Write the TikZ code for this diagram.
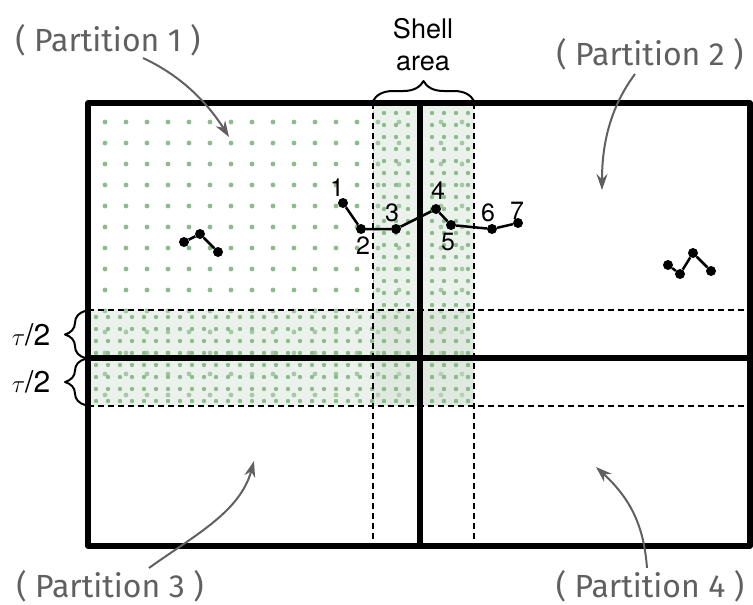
\documentclass[tikz,border=0pt]{standalone}
\usepackage{fontspec}
\setmainfont{TeX Gyre Heros}
\newfontfamily\handfont{Fira Sans}
\usetikzlibrary{patterns.meta,decorations.pathreplacing,arrows.meta}
\definecolor{dotgreen}{RGB}{140,188,140}
\definecolor{shellgreen}{RGB}{205,220,205}
\definecolor{pointgray}{RGB}{96,96,96}

\begin{document}
\begin{tikzpicture}[x=1pt,y=-1pt,line join=round,
  bead/.style={circle,fill=black,inner sep=0pt,minimum size=10pt},
  num/.style={font=\fontsize{25}{25}\selectfont,inner sep=0pt},
  partlabel/.style={font=\handfont\fontsize{32}{32}\selectfont,text=pointgray,inner sep=0pt},
  pointer/.style={draw=pointgray,line width=2pt,-{Stealth[length=16pt,width=11pt]}},
  cut/.style={line width=2pt,dash pattern=on 6pt off 4pt},
  wall/.style={line width=5.5pt},
  bracket/.style={line width=2pt,decorate,decoration={brace,amplitude=20pt,aspect=0.5}}]
  \useasboundingbox (0,0) rectangle (753,605);
  % partition 1 and the tau/2 shell round the two cuts
  \fill[pattern={Dots[radius=2.4pt,distance=21pt]},pattern color=dotgreen] (88,103) rectangle (474,406);
  \foreach \a/\b in {373/103,88/310}{
    \fill[shellgreen,opacity=0.4] (\a,\b) rectangle (474,406);
    \fill[pattern={Dots[radius=2.2pt,distance=12pt]},pattern color=dotgreen] (\a,\b) rectangle (474,406);
  }
  \foreach \x in {373,474}{\draw[cut] (\x,103) -- (\x,546);}
  \foreach \y in {310,406}{\draw[cut] (88,\y) -- (750,\y);}
  \draw[wall] (88,103) rectangle (750,546);
  \draw[wall] (420,103) -- (420,546);
  \draw[wall] (88,358) -- (750,358);
  % braces
  \draw[bracket] (373,101) -- (474,101);
  \draw[bracket] (85,358) -- (85,311);
  \draw[bracket] (85,405) -- (85,359);
  \node[font=\fontsize{27}{32}\selectfont,align=center] (shell) at (423,45) {Shell\\area};
  \node[font=\fontsize{30}{30}\selectfont,inner sep=0pt] (tauA) at (31,335) {$\tau$/2};
  \node[font=\fontsize{30}{30}\selectfont,inner sep=0pt] (tauB) at (31,382) {$\tau$/2};
  % the chain crossing the cut
  \foreach \n/\p in {1/{(343,203)},2/{(361,229)},3/{(396,229)},4/{(436,209)},5/{(451,225)},6/{(492,229)},7/{(518,223)}}{\node[bead] (p\n) at \p {};}
  \draw[line width=2.5pt] (p1) -- (p2) -- (p3) -- (p4) -- (p5) -- (p6) -- (p7);
  \node[num] (n1) at (337,188) {1};
  \node[num] (n2) at (363,246) {2};
  \node[num] (n3) at (392,213) {3};
  \node[num] (n4) at (438,191) {4};
  \node[num] (n5) at (448,242) {5};
  \node[num] (n6) at (488,213) {6};
  \node[num] (n7) at (517,211) {7};
  % small chains inside partitions 1 and 2
  \node[bead] (a1) at (184,242) {};
  \node[bead] (a2) at (200,234) {};
  \node[bead] (a3) at (218,252) {};
  \draw[line width=2.5pt] (a1) -- (a2) -- (a3);
  \node[bead] (b1) at (668,265) {};
  \node[bead] (b2) at (680,274) {};
  \node[bead] (b3) at (693,253) {};
  \node[bead] (b4) at (711,271) {};
  \draw[line width=2.5pt] (b1) -- (b2) -- (b3) -- (b4);
  % partition labels
  \node[partlabel] (part1) at (108,40) {( Partition 1 )};
  \node[partlabel] (part2) at (650,54) {( Partition 2 )};
  \node[partlabel] (part3) at (110,586) {( Partition 3 )};
  \node[partlabel] (part4) at (650,586) {( Partition 4 )};
  \coordinate (tip1) at (229,137);
  \coordinate (tip2) at (602,190);
  \coordinate (tip3) at (254,461);
  \coordinate (tip4) at (596,467);
  \draw[pointer] ([xshift=35pt,yshift=-2pt]part1.south) .. controls (180,75) and (207,102) .. (tip1);
  \draw[pointer] ([xshift=-15pt,yshift=-4pt]part2.south) .. controls (612,105) and (602,140) .. (tip2);
  \draw[pointer] ([xshift=39pt,yshift=2pt]part3.north) .. controls (195,535) and (240,512) .. (tip3);
  \draw[pointer] ([xshift=-3pt,yshift=2pt]part4.north) .. controls (644,528) and (632,500) .. (tip4);
\end{tikzpicture}
\end{document}
